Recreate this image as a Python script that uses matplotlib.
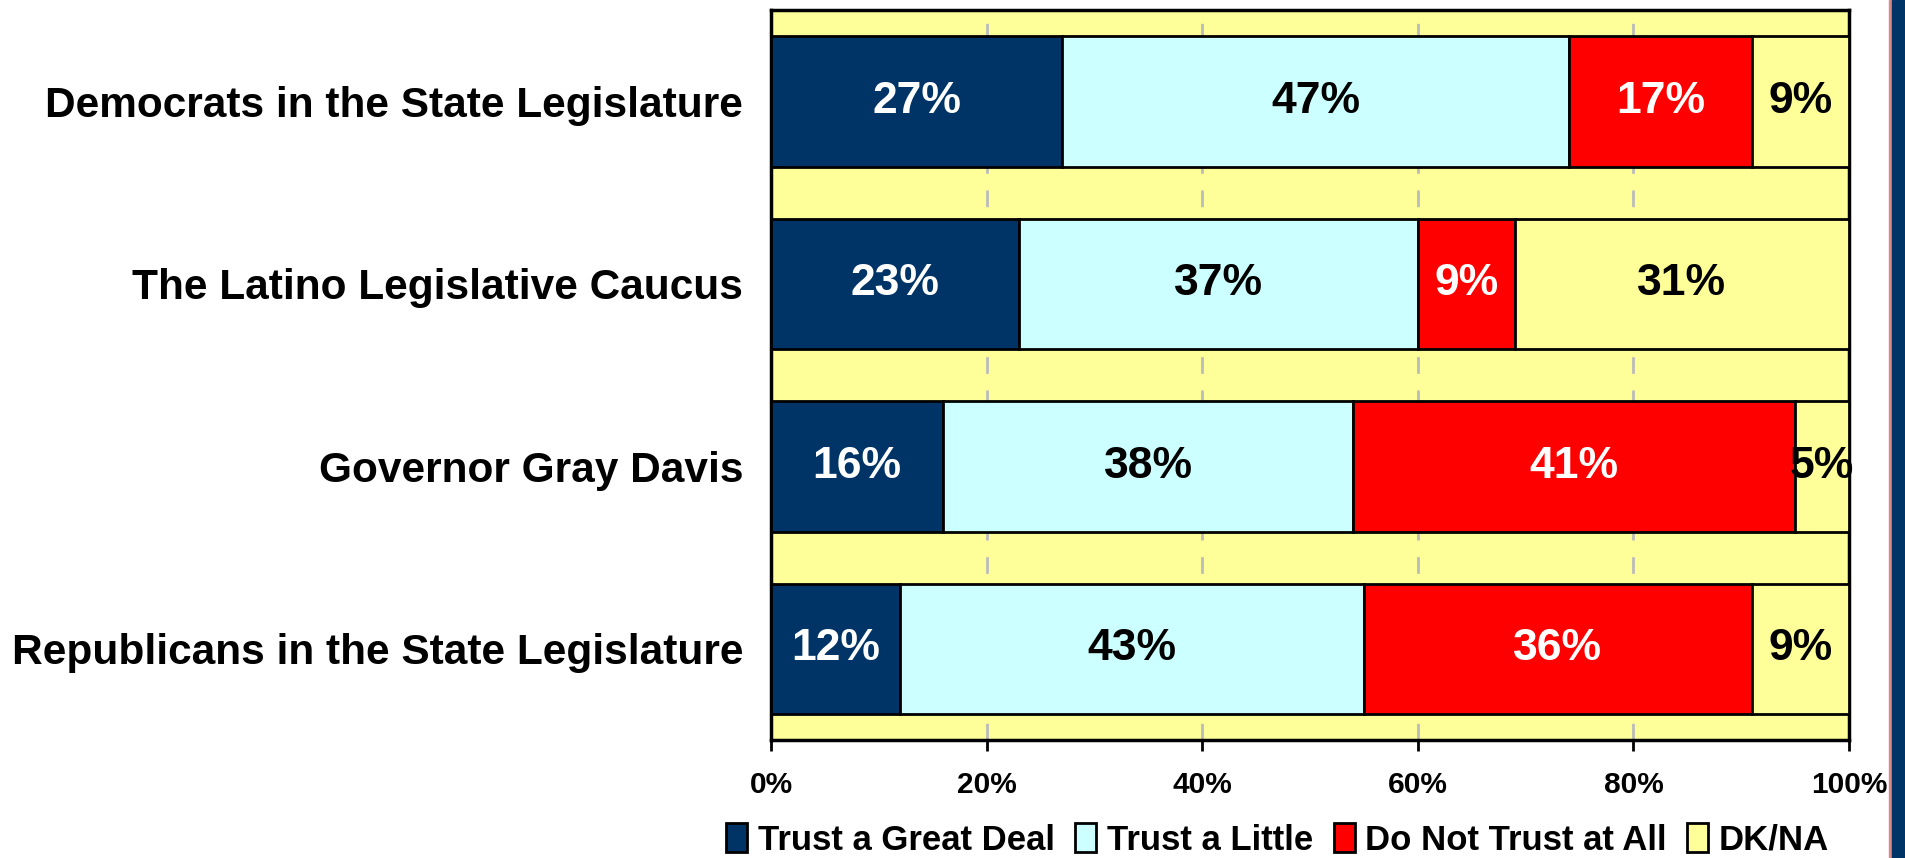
import matplotlib.pyplot as plt
from matplotlib.patches import Rectangle
from matplotlib.ticker import PercentFormatter

plt.rcParams['font.family'] = ['Liberation Sans', 'DejaVu Sans']
plt.rcParams['font.weight'] = 'bold'

groups = [
    'Democrats in the State Legislature',
    'The Latino Legislative Caucus',
    'Governor Gray Davis',
    'Republicans in the State Legislature',
]
series = ['Trust a Great Deal', 'Trust a Little', 'Do Not Trust at All', 'DK/NA']
great_deal = [27, 23, 16, 12]
a_little = [47, 37, 38, 43]
not_at_all = [17, 9, 41, 36]
dk_na = [9, 31, 5, 9]

colors = ['#003366', '#CCFFFF', '#FF0000', '#FFFF99']
text_colors = ['white', 'black', 'white', 'black']

fig = plt.figure(figsize=(19.06, 8.58), dpi=100)
ax = fig.add_axes([0.4045, 0.1375, 0.5656, 0.8508])
ax.set_facecolor('#FFFF99')

y = list(range(len(groups)))
left = [0] * len(groups)
for vals, name, c, tc in zip([great_deal, a_little, not_at_all, dk_na], series, colors, text_colors):
    bars = ax.barh(y, vals, left=left, height=0.715, color=c, edgecolor='black',
                   linewidth=2, label=name, zorder=3)
    for b, v in zip(bars, vals):
        ax.text(b.get_x() + b.get_width() / 2, b.get_y() + b.get_height() / 2, f'{v}%',
                ha='center', va='center', color=tc, fontsize=32, fontweight='bold', zorder=4)
    left = [l + v for l, v in zip(left, vals)]

ax.set_xlim(0, 100)
ax.set_ylim(len(groups) - 0.5, -0.5)
ax.set_yticks(y)
ax.set_yticklabels(groups, fontsize=30.5, fontweight='bold')
ax.tick_params(axis='y', length=0, pad=20)
ax.set_xticks([0, 20, 40, 60, 80, 100])
ax.xaxis.set_major_formatter(PercentFormatter(decimals=0))
ax.tick_params(axis='x', length=8, width=2, labelsize=21.5, pad=14)
for lbl in ax.get_xticklabels():
    lbl.set_fontweight('bold')
ax.grid(axis='x', color='#BBBBBB', linestyle=(0, (6, 6)), linewidth=2, zorder=1)
for s in ax.spines.values():
    s.set_linewidth(2.5)
    s.set_color('black')

leg = ax.legend(loc='center', bbox_to_anchor=(0.47, -0.137), ncol=4, frameon=False,
                fontsize=25, handlelength=0.6, handleheight=0.9, handletextpad=0.3,
                columnspacing=0.6, borderaxespad=0)
for h in leg.legend_handles:
    h.set_linewidth(2)
for t in leg.get_texts():
    t.set_fontweight('bold')

# right-hand border stripe
fig.patches.append(Rectangle((1889 / 1906, 0), 2 / 1906, 1, transform=fig.transFigure,
                             color='#DD8888', zorder=0))
fig.patches.append(Rectangle((1892 / 1906, 0), 14 / 1906, 1, transform=fig.transFigure,
                             color='#003366', zorder=0))

fig.savefig('out.png', dpi=100)
